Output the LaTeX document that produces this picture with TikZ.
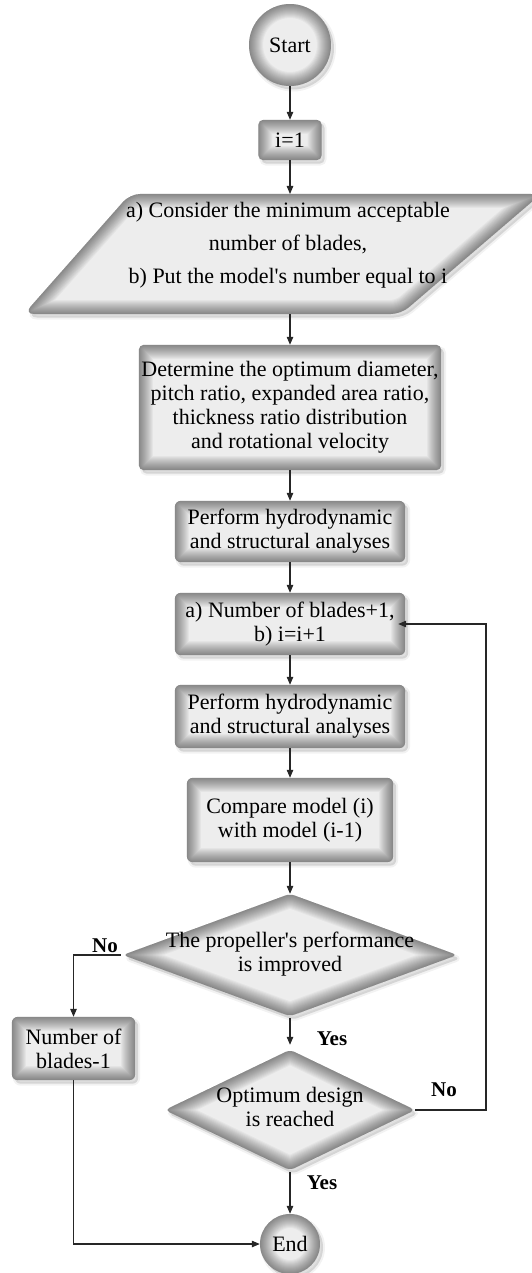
\documentclass[tikz,border=0pt]{standalone}
\usepackage{fontspec}
\setmainfont{Liberation Serif}[Ligatures=TeXOff]
\usetikzlibrary{shapes.geometric,arrows.meta,backgrounds,calc}

\newcommand{\bevelshape}[1]{%
  \begin{scope}[transform canvas={shift={(3pt,-3.5pt)}}]
    \fill[black, opacity=0.12] #1;
    \draw[black, opacity=0.05, line width=4pt] #1;
  \end{scope}
  \begin{scope}
    \clip #1;
    \fill[black!7] #1;
    \foreach \w in {2,4,...,28} {\draw[black, draw opacity=0.034, line width=\w pt] #1;}
  \end{scope}}

\begin{document}
\begin{tikzpicture}[x=1pt,y=-1pt,
  txt/.style={font=\fontsize{22}{24}\selectfont, align=center, text=black},
  boxn/.style={txt, rectangle, inner sep=0pt},
  dec/.style={txt, diamond, inner sep=0pt},
  lbl/.style={font=\fontsize{21}{24}\selectfont\bfseries, inner sep=0pt},
  conn/.style={line width=1.1pt, black!85, -{Triangle[length=8pt,width=6.5pt]}},
  wire/.style={line width=1.1pt, black!85}]
\useasboundingbox (0,0) rectangle (531,1273);

% nodes
\node[boxn, circle, minimum size=82pt] (start) at (290,45) {Start};
\node[boxn, minimum width=63pt, minimum height=40pt] (i1) at (290,140) {i=1};
\node[txt, font=\fontsize{22}{33}\selectfont] (par) at (288,245)
  {a) Consider the minimum acceptable\\number of blades,\\b) Put the model's number equal to i};
\coordinate (partop) at (290,194);
\coordinate (parbot) at (290,314);
\node[boxn, minimum width=302pt, minimum height=125pt] (det) at (290,407.5)
  {Determine the optimum diameter,\\pitch ratio, expanded area ratio,\\thickness ratio distribution\\and rotational velocity};
\node[boxn, minimum width=230pt, minimum height=61pt] (perfa) at (290,531.5)
  {Perform hydrodynamic\\and structural analyses};
\node[boxn, minimum width=230pt, minimum height=62pt] (num) at (290,624)
  {a) Number of blades+1,\\b) i=i+1};
\node[boxn, minimum width=230pt, minimum height=63pt] (perfb) at (290,716.5)
  {Perform hydrodynamic\\and structural analyses};
\node[boxn, minimum width=206pt, minimum height=84pt] (cmp) at (290,820)
  {Compare model (i)\\with model (i-1)};
\node[dec, minimum width=334pt, minimum height=122pt] (d1) at (290,955)
  {\makebox[0pt]{\begin{tabular}{@{}c@{}}The propeller's performance\\is improved\end{tabular}}};
\node[dec, minimum width=250pt, minimum height=120pt] (d2) at (290,1110)
  {\makebox[0pt]{\begin{tabular}{@{}c@{}}Optimum design\\is reached\end{tabular}}};
\node[boxn, minimum width=123pt, minimum height=63pt] (nb) at (73.5,1048.5)
  {Number of\\blades-1};
\node[boxn, circle, minimum size=60pt] (end) at (290,1244) {End};
\coordinate (loopx) at (486,1110);

% shaded shapes
\begin{pgfonlayer}{background}
\bevelshape{(start.center) circle[radius=41pt]}
\bevelshape{[rounded corners=5pt] (i1.south west) rectangle (i1.north east)}
\bevelshape{[rounded corners=10pt] (130,194) -- (541,194) -- (401,314) -- (24,314) -- cycle}
\bevelshape{[rounded corners=5pt] (det.south west) rectangle (det.north east)}
\bevelshape{[rounded corners=6pt] (perfa.south west) rectangle (perfa.north east)}
\bevelshape{[rounded corners=6pt] (num.south west) rectangle (num.north east)}
\bevelshape{[rounded corners=6pt] (perfb.south west) rectangle (perfb.north east)}
\bevelshape{[rounded corners=6pt] (cmp.south west) rectangle (cmp.north east)}
\bevelshape{[rounded corners=5pt] (d1.north) -- (d1.east) -- (d1.south) -- (d1.west) -- cycle}
\bevelshape{[rounded corners=5pt] (d2.north) -- (d2.east) -- (d2.south) -- (d2.west) -- cycle}
\bevelshape{[rounded corners=6pt] (nb.south west) rectangle (nb.north east)}
\bevelshape{(end.center) circle[radius=30pt]}
\end{pgfonlayer}

% connectors
\draw[conn] (start.south) -- (i1.north);
\draw[conn] (i1.south) -- (partop);
\draw[conn] (parbot) -- (det.north);
\draw[conn] (det.south) -- (perfa.north);
\draw[conn] (perfa.south) -- (num.north);
\draw[conn] (num.south) -- (perfb.north);
\draw[conn] (perfb.south) -- (cmp.north);
\draw[conn] (cmp.south) -- (d1.north);
\draw[conn, shorten <=2pt, shorten >=5pt] (d1.south) -- (d2.north);
\draw[conn, shorten <=2pt] (d2.south) -- (end.north);
\draw[conn, shorten <=2pt] (d1.west) -| (nb.north);
\draw[conn] (nb.south) |- (end.west);
\draw[conn, shorten >=-7pt] (d2.east) -- (loopx) |- (num.east);

% labels
\node[lbl] (lno1) at (105,946) {No};
\node[lbl] (lyes1) at (332,1039) {Yes};
\node[lbl] (lno2) at (444,1090) {No};
\node[lbl] (lyes2) at (322,1183) {Yes};
\end{tikzpicture}
\end{document}
